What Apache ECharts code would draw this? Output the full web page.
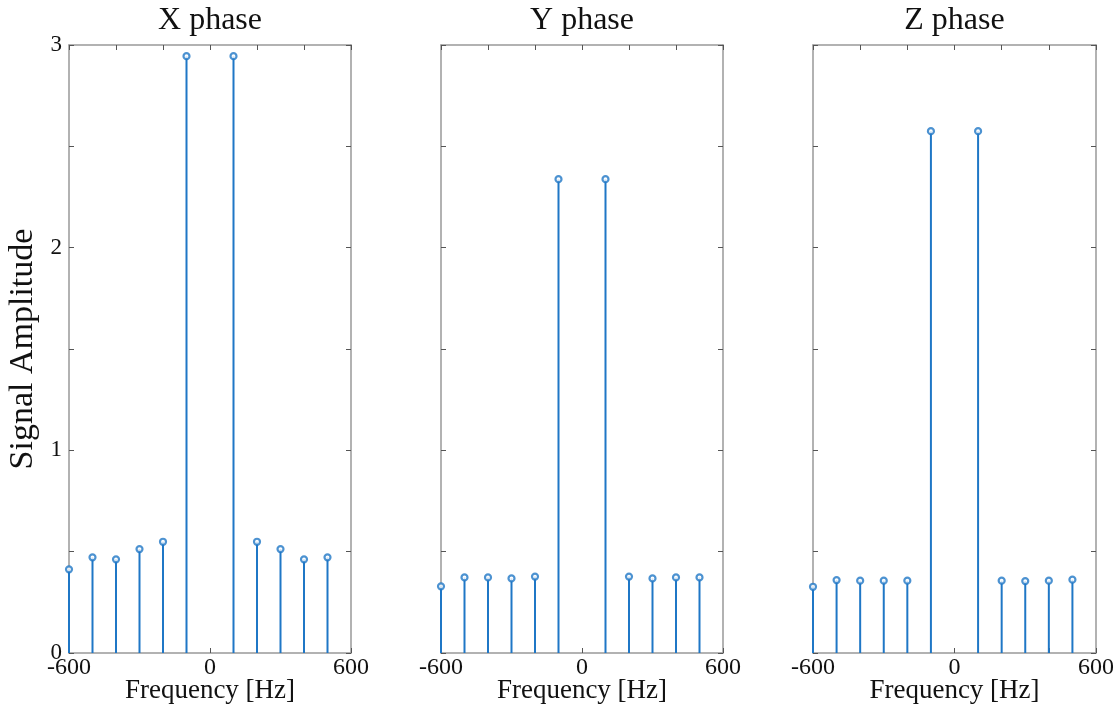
<!DOCTYPE html>
<html>
<head>
<meta charset="utf-8">
<script src="https://cdn.jsdelivr.net/npm/echarts@6/dist/echarts.min.js"></script>
<style>
html, body { margin: 0; padding: 0; background: #fff; }
#chart { width: 1113px; height: 705px; }
</style>
</head>
<body>
<div id="chart"></div>
<script>
// 频率 (Hz)
var freqs = [-600, -500, -400, -300, -200, -100, 100, 200, 300, 400, 500];
var xPhase = [0.413, 0.472, 0.462, 0.513, 0.549, 2.945, 2.945, 0.549, 0.513, 0.462, 0.472];
var yPhase = [0.329, 0.373, 0.373, 0.368, 0.377, 2.338, 2.338, 0.377, 0.368, 0.373, 0.373];
var zPhase = [0.327, 0.360, 0.357, 0.357, 0.357, 2.575, 2.575, 0.357, 0.355, 0.357, 0.362];
var titles = ['X phase', 'Y phase', 'Z phase'];
var xTickLabels = [-600, 0, 600];
var yTickLabels = [0, 1, 2, 3];

var chart = echarts.init(document.getElementById('chart'));
var blue = '#1f77c6';
var font = '"Liberation Serif", "DejaVu Serif", serif';
var lineColor = '#999999';
var tickColor = '#555555';

var panels = [xPhase, yPhase, zPhase];
var lefts = [69, 441, 813];
var widths = [282, 282, 283];

var grid = [], xAxis = [], yAxis = [], series = [], title = [];

for (var i = 0; i < 3; i++) {
    grid.push({ left: lefts[i], top: 45, width: widths[i], height: 608, outerBoundsMode: 'none', containLabel: false });
    title.push({
        text: titles[i],
        left: lefts[i] + widths[i] / 2,
        top: 5,
        padding: 0,
        textAlign: 'center',
        textStyle: { fontFamily: font, fontSize: 32, fontWeight: 'normal', color: '#111' }
    });
    // 底部x轴
    xAxis.push({
        type: 'value', gridIndex: i, min: -600, max: 600, interval: 200,
        position: 'bottom',
        name: 'Frequency [Hz]', nameLocation: 'middle', nameGap: 24, nameMoveOverlap: false,
        nameTextStyle: { fontFamily: font, fontSize: 27, color: '#111' },
        axisLine: { show: true, onZero: false, lineStyle: { color: lineColor, width: 1.5 } },
        axisTick: { show: true, inside: true, length: 5, lineStyle: { color: tickColor } },
        axisLabel: {
            fontFamily: font, fontSize: 24, color: '#111', margin: 3,
            formatter: function (v) { return xTickLabels.indexOf(v) >= 0 ? String(v) : ''; }
        },
        splitLine: { show: false }
    });
    // 顶部x轴
    xAxis.push({
        type: 'value', gridIndex: i, min: -600, max: 600, interval: 200,
        position: 'top',
        axisLine: { show: true, onZero: false, lineStyle: { color: lineColor, width: 1.5 } },
        axisTick: { show: true, inside: true, length: 5, lineStyle: { color: tickColor } },
        axisLabel: { show: false },
        splitLine: { show: false }
    });
    yAxis.push({
        type: 'value', gridIndex: i, min: 0, max: 3, interval: 0.5,
        position: 'left',
        name: i === 0 ? 'Signal Amplitude' : '', nameLocation: 'middle', nameGap: 29,
        nameMoveOverlap: false,
        nameTextStyle: { fontFamily: font, fontSize: 34, color: '#111' },
        axisLine: { show: true, onZero: false, lineStyle: { color: lineColor, width: 1.5 } },
        axisTick: { show: true, inside: true, length: 5, lineStyle: { color: tickColor } },
        axisLabel: {
            show: i === 0, fontFamily: font, fontSize: 23, color: '#111', margin: 7,
            formatter: function (v) { return yTickLabels.indexOf(v) >= 0 ? String(v) : ''; }
        },
        splitLine: { show: false }
    });
    yAxis.push({
        type: 'value', gridIndex: i, min: 0, max: 3, interval: 0.5,
        position: 'right',
        axisLine: { show: true, onZero: false, lineStyle: { color: lineColor, width: 1.5 } },
        axisTick: { show: true, inside: true, length: 5, lineStyle: { color: tickColor } },
        axisLabel: { show: false },
        splitLine: { show: false }
    });

    var pts = [];
    for (var k = 0; k < freqs.length; k++) {
        pts.push([freqs[k], panels[i][k]]);
    }
    // 茎
    series.push({
        type: 'bar', xAxisIndex: i * 2, yAxisIndex: i * 2,
        data: pts, barWidth: 2, silent: true,
        itemStyle: { color: blue }
    });
    // 圆圈
    series.push({
        type: 'scatter', xAxisIndex: i * 2, yAxisIndex: i * 2,
        data: pts, symbol: 'circle', symbolSize: 6, silent: true,
        itemStyle: { color: '#fff', borderColor: blue, borderWidth: 2.2 },
        z: 5
    });
}

chart.setOption({
    animation: false,
    title: title,
    grid: grid,
    xAxis: xAxis,
    yAxis: yAxis,
    series: series
});
</script>
</body>
</html>
